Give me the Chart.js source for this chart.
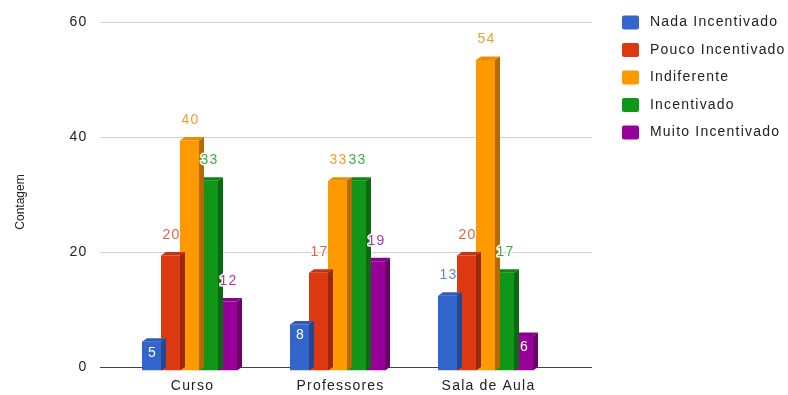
<!DOCTYPE html>
<html lang="pt">
<head>
    <meta charset="UTF-8">
    <title>Contagem</title>
    <script src="https://cdn.jsdelivr.net/npm/chart.js"></script>
    <style>
        html, body { margin: 0; padding: 0; background: #fff; }
        #chart { display: block; }
    </style>
</head>
<body>
    <canvas id="chart" width="788" height="395"></canvas>

    <script>
        // dados do gráfico
        const categorias = ['Curso', 'Professores', 'Sala de Aula'];
        const series = ['Nada Incentivado', 'Pouco Incentivado', 'Indiferente', 'Incentivado', 'Muito Incentivado'];
        const nadaIncentivado = [5, 8, 13];
        const poucoIncentivado = [20, 17, 20];
        const indiferente = [40, 33, 54];
        const incentivado = [33, 33, 17];
        const muitoIncentivado = [12, 19, 6];
        const yTicks = [0, 20, 40, 60];
        const tituloY = 'Contagem';

        const valores = [nadaIncentivado, poucoIncentivado, indiferente, incentivado, muitoIncentivado];
        const cores = ['#3366cc', '#dc3912', '#ff9900', '#109618', '#990099'];
        const coresTopo = ['#2f5cb8', '#c63310', '#eb8d00', '#0e8615', '#8a008a'];
        const coresLado = ['#24478f', '#9a280c', '#b36b00', '#0b6911', '#6b006b'];
        const coresTexto = ['rgba(51,102,204,0.8)', 'rgba(220,57,18,0.8)', 'rgba(230,145,0,0.85)', 'rgba(16,150,24,0.8)', 'rgba(153,0,153,0.8)'];

        const FONTE = '"Liberation Sans", Arial, sans-serif';
        const ESPACO = '1.2px';
        const DX = 5, DY = 3.5;   // profundidade 3D

        // grade e linha de base (plano de trás)
        const gradePlugin = {
            id: 'grade',
            beforeDraw(chart) {
                chart.ctx.letterSpacing = ESPACO;
            },
            beforeDatasetsDraw(chart) {
                const ctx = chart.ctx;
                const y = chart.scales.y;
                ctx.save();
                yTicks.forEach(t => {
                    const py = Math.round(y.getPixelForValue(t) - DY) + 0.5;
                    ctx.strokeStyle = t === 0 ? '#444' : '#d0d0d0';
                    ctx.lineWidth = 1;
                    ctx.beginPath();
                    ctx.moveTo(100, py);
                    ctx.lineTo(592, py);
                    ctx.stroke();
                });
                ctx.restore();
            }
        };

        // faces de topo e lateral das barras
        const barras3dPlugin = {
            id: 'barras3d',
            afterDatasetDraw(chart, args) {
                const ctx = chart.ctx;
                const i = args.index;
                ctx.save();
                args.meta.data.forEach(bar => {
                    const L = bar.x - bar.width / 2, R = bar.x + bar.width / 2;
                    const T = bar.y, B = bar.base;
                    ctx.fillStyle = coresTopo[i];
                    ctx.beginPath();
                    ctx.moveTo(L, T); ctx.lineTo(R, T);
                    ctx.lineTo(R + DX, T - DY); ctx.lineTo(L + DX, T - DY);
                    ctx.closePath(); ctx.fill();
                    ctx.fillStyle = coresLado[i];
                    ctx.beginPath();
                    ctx.moveTo(R, T); ctx.lineTo(R + DX, T - DY);
                    ctx.lineTo(R + DX, B - DY); ctx.lineTo(R, B);
                    ctx.closePath(); ctx.fill();
                });
                ctx.restore();
            },
            afterDatasetsDraw(chart) {
                const ctx = chart.ctx;
                ctx.save();
                ctx.font = '14px ' + FONTE;
                ctx.textAlign = 'center';
                ctx.textBaseline = 'middle';
                ctx.lineJoin = 'round';
                chart.data.datasets.forEach((ds, i) => {
                    chart.getDatasetMeta(i).data.forEach((bar, j) => {
                        const v = ds.data[j];
                        const txt = String(v);
                        if (v < 10) {
                            ctx.fillStyle = '#ffffff';
                            ctx.fillText(txt, bar.x + 1, bar.y + 11);
                        } else {
                            const py = bar.y - DY - 17;
                            ctx.strokeStyle = '#ffffff';
                            ctx.lineWidth = 3;
                            ctx.strokeText(txt, bar.x + 1, py);
                            ctx.fillStyle = coresTexto[i];
                            ctx.fillText(txt, bar.x + 1, py);
                        }
                    });
                });
                ctx.restore();
            }
        };

        // legenda e título do eixo
        const legendaPlugin = {
            id: 'legenda',
            afterDraw(chart) {
                const ctx = chart.ctx;
                ctx.save();
                ctx.font = '14px ' + FONTE;
                ctx.textBaseline = 'middle';
                ctx.textAlign = 'left';
                chart.data.datasets.forEach((ds, i) => {
                    const yc = 22.5 + i * 27.5;
                    ctx.fillStyle = cores[i];
                    ctx.beginPath();
                    ctx.roundRect(622, yc - 7, 17, 14, 2);
                    ctx.fill();
                    ctx.fillStyle = '#222';
                    ctx.fillText(ds.label, 650, yc);
                });

                ctx.letterSpacing = '0px';
                ctx.translate(21, 202);
                ctx.rotate(-Math.PI / 2);
                ctx.font = '12px ' + FONTE;
                ctx.textAlign = 'center';
                ctx.fillStyle = '#222';
                ctx.fillText(tituloY, 0, 0);
                ctx.restore();
            }
        };

        const chart = new Chart(document.getElementById('chart'), {
            type: 'bar',
            data: {
                labels: categorias,
                datasets: series.map((nome, i) => ({
                    label: nome,
                    data: valores[i],
                    backgroundColor: cores[i],
                    borderWidth: 0,
                    categoryPercentage: 0.642,
                    barPercentage: 1.0
                }))
            },
            options: {
                responsive: false,
                animation: false,
                devicePixelRatio: 1,
                layout: { padding: { left: 0, right: 228.5, top: 25.5, bottom: 0 } },
                plugins: {
                    legend: { display: false },
                    tooltip: { enabled: false }
                },
                scales: {
                    x: {
                        grid: { display: false, drawTicks: false },
                        border: { display: false },
                        ticks: { color: '#222', font: { family: FONTE, size: 14 }, padding: 7, labelOffset: 3 },
                        afterFit(scale) {
                            scale.height = 24.5;
                            scale.paddingLeft = 0; scale.paddingRight = 0;
                            scale.paddingTop = 0; scale.paddingBottom = 0;
                        }
                    },
                    y: {
                        min: 0,
                        max: 60,
                        grid: { display: false, drawTicks: false },
                        border: { display: false },
                        ticks: {
                            stepSize: 20,
                            color: '#222',
                            font: { family: FONTE, size: 14 },
                            padding: 28,
                            labelOffset: -3.5
                        },
                        afterFit(scale) {
                            scale.width = 115.5;
                            scale.paddingLeft = 0; scale.paddingRight = 0;
                            scale.paddingTop = 0; scale.paddingBottom = 0;
                        }
                    }
                }
            },
            plugins: [gradePlugin, barras3dPlugin, legendaPlugin]
        });
    </script>
</body>
</html>
